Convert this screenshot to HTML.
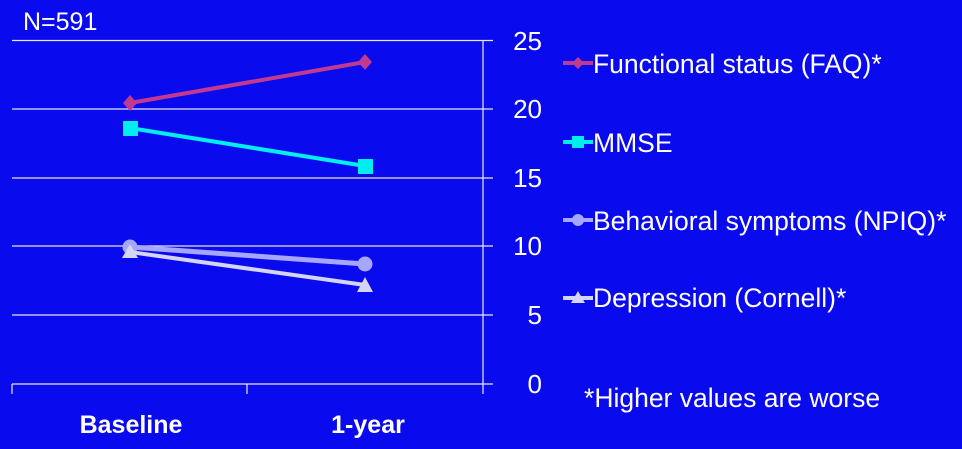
<!DOCTYPE html>
<html><head><style>
html,body{margin:0;padding:0;background:#0a0aef;}
svg{display:block;}
text{font-family:"Liberation Sans",Arial,sans-serif;fill:#fff;}
</style></head><body>
<svg width="962" height="449" viewBox="0 0 962 449">
<rect width="962" height="449" fill="#0a0aef"/>
<text x="23" y="30" font-size="25">N=591</text>
<g stroke="#e8e8f0" stroke-width="1.2">
<line x1="12" y1="40.5" x2="493" y2="40.5"/>
<line x1="12" y1="109" x2="493" y2="109"/>
<line x1="12" y1="178" x2="493" y2="178"/>
<line x1="12" y1="246" x2="493" y2="246"/>
<line x1="12" y1="315" x2="493" y2="315"/>
<line x1="12" y1="384" x2="493" y2="384"/>
<line x1="483" y1="40" x2="483" y2="394"/>
<line x1="12" y1="384" x2="12" y2="394"/>
<line x1="247" y1="384" x2="247" y2="394"/>
</g>
<g font-size="26" text-anchor="end">
<text x="542" y="50">25</text>
<text x="542" y="118">20</text>
<text x="542" y="187">15</text>
<text x="542" y="255">10</text>
<text x="542" y="324">5</text>
<text x="542" y="393">0</text>
</g>
<g font-size="25" font-weight="bold" text-anchor="middle">
<text x="131" y="433">Baseline</text>
<text x="368" y="433">1-year</text>
</g>
<line x1="130" y1="103" x2="365" y2="62" stroke="#c23a90" stroke-width="4"/>
<polygon points="130,95 137,103 130,111 123,103" fill="#c23a90"/>
<polygon points="365,54 372,62 365,70 358,62" fill="#c23a90"/>
<line x1="130" y1="128" x2="365" y2="166" stroke="#00eef0" stroke-width="4"/>
<rect x="123" y="121" width="15" height="15" fill="#00eef0"/>
<rect x="358" y="159" width="15" height="15" fill="#00eef0"/>
<line x1="130" y1="247" x2="365" y2="264" stroke="#a6a6ff" stroke-width="5"/>
<circle cx="130" cy="247" r="7.5" fill="#a6a6ff"/>
<circle cx="365" cy="264" r="7.5" fill="#a6a6ff"/>
<line x1="130" y1="252" x2="365" y2="285" stroke="#d4d4f4" stroke-width="4"/>
<polygon points="130,244 138,258 122,258" fill="#d4d4f4"/>
<polygon points="365,277 373,292 357,292" fill="#d4d4f4"/>
<line x1="563" y1="63" x2="593" y2="63" stroke="#c23a90" stroke-width="4"/>
<polygon points="578,57 584,63 578,69 572,63" fill="#c23a90"/>
<text x="593" y="73" font-size="26.5">Functional status (FAQ)*</text>
<line x1="563" y1="142" x2="593" y2="142" stroke="#00eef0" stroke-width="4"/>
<rect x="572" y="136" width="12" height="12" fill="#00eef0"/>
<text x="593" y="152" font-size="26.5">MMSE</text>
<line x1="563" y1="220" x2="593" y2="220" stroke="#a6a6ff" stroke-width="4"/>
<circle cx="578" cy="220" r="6" fill="#a6a6ff"/>
<text x="593" y="230" font-size="26.5">Behavioral symptoms (NPIQ)*</text>
<line x1="563" y1="298" x2="593" y2="298" stroke="#d4d4f4" stroke-width="4"/>
<polygon points="578,291 585,303 571,303" fill="#d4d4f4"/>
<text x="593" y="307" font-size="26.5">Depression (Cornell)*</text>
<text x="584" y="407" font-size="26.5">*Higher values are worse</text>
</svg>
</body></html>
